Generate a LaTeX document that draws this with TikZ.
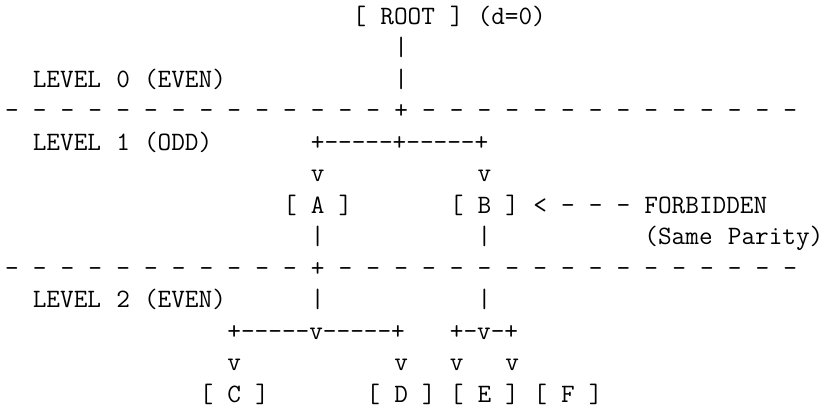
\documentclass[tikz,border=0pt]{standalone}
\newcommand\hy{\mbox{-}}
\tikzset{
  tk/.style={anchor=base west, inner sep=0pt, outer sep=0pt,
    font=\fontsize{26.5}{30}\selectfont\ttfamily, text=black}
}
\newcommand\tok[3]{\node[tk] (t-#2-#1) at (#1,#2) {#3};}
\begin{document}
\begin{tikzpicture}
\useasboundingbox[fill=white] (0pt,0pt) rectangle (828pt,-413pt);
\begin{scope}[shift={(5.05pt,-24pt)}, x=13.9pt, y=-31.5pt]
% row 0
\tok{25}{0}{[} \tok{27}{0}{ROOT} \tok{32}{0}{]} \tok{34}{0}{(d=0)}
% row 1
\tok{28}{1}{|}
% row 2
\tok{2}{2}{LEVEL} \tok{8}{2}{0} \tok{10}{2}{(EVEN)} \tok{28}{2}{|}
% row 3: separator
\foreach \c in {0,2,...,26} {\node[tk] (s1-\c) at (\c,3) {-};}
\tok{28}{3}{+}
\foreach \c in {30,32,...,56} {\node[tk] (s1-\c) at (\c,3) {-};}
% row 4
\tok{2}{4}{LEVEL} \tok{8}{4}{1} \tok{10}{4}{(ODD)}
\tok{22}{4}{+\hy\hy\hy\hy\hy+\hy\hy\hy\hy\hy+}
% row 5
\tok{22}{5}{v} \tok{34}{5}{v}
% row 6
\tok{20}{6}{[} \tok{22}{6}{A} \tok{24}{6}{]}
\tok{32}{6}{[} \tok{34}{6}{B} \tok{36}{6}{]}
\tok{38}{6}{<} \tok{40}{6}{-} \tok{42}{6}{-} \tok{44}{6}{-}
\tok{46}{6}{FORBIDDEN}
% row 7
\tok{22}{7}{|} \tok{34}{7}{|} \tok{46}{7}{(Same} \tok{52}{7}{Parity)}
% row 8: separator
\foreach \c in {0,2,...,20} {\node[tk] (s2-\c) at (\c,8) {-};}
\tok{22}{8}{+}
\foreach \c in {24,26,...,56} {\node[tk] (s2-\c) at (\c,8) {-};}
% row 9
\tok{2}{9}{LEVEL} \tok{8}{9}{2} \tok{10}{9}{(EVEN)} \tok{22}{9}{|} \tok{34}{9}{|}
% row 10
\tok{16}{10}{+\hy\hy\hy\hy\hy v\hy\hy\hy\hy\hy+}
\tok{32}{10}{+\hy v\hy+}
% row 11
\tok{16}{11}{v} \tok{28}{11}{v} \tok{32}{11}{v} \tok{36}{11}{v}
% row 12
\tok{14}{12}{[} \tok{16}{12}{C} \tok{18}{12}{]}
\tok{26}{12}{[} \tok{28}{12}{D} \tok{30}{12}{]}
\tok{32}{12}{[} \tok{34}{12}{E} \tok{36}{12}{]}
\tok{38}{12}{[} \tok{40}{12}{F} \tok{42}{12}{]}
\end{scope}
\end{tikzpicture}
\end{document}
